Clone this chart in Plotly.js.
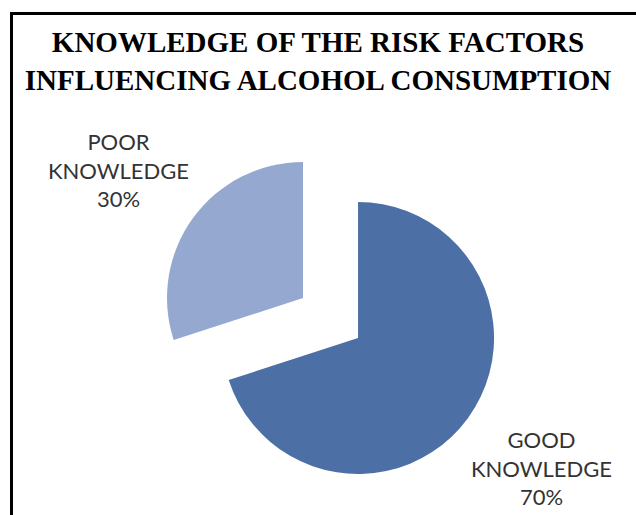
<!DOCTYPE html>
<html>
<head>
<meta charset="utf-8">
<script src="https://cdn.plot.ly/plotly-3.0.1.min.js"></script>
<style>
  html, body { margin: 0; padding: 0; background: #fff; overflow: hidden; }
  #frame { position: absolute; left: 10px; top: 12px; width: 700px; height: 600px;
           border-left: 3px solid #000; border-top: 3px solid #000; pointer-events: none; z-index: 5; }
  #chart { position: absolute; left: 0; top: 0; width: 636px; height: 515px; }
</style>
</head>
<body>
<div id="chart"></div>
<div id="frame"></div>
<script>
const titleText = 'KNOWLEDGE OF THE RISK FACTORS<br>INFLUENCING ALCOHOL CONSUMPTION';
const categories = ['GOOD KNOWLEDGE', 'POOR KNOWLEDGE'];
const values = [70, 30];
const colors = ['#4C6FA5', '#95A8CF'];
const pulls = [0.25, 0.25];
// label placement (paper fractions) for each category's data label
const labelPos = [[0.852, 0.091], [0.187, 0.670]];

const total = values.reduce((a, b) => a + b, 0);
const labelText = categories.map((c, i) =>
  c.replace(' ', '<br>') + '<br>' + Math.round(values[i] / total * 100) + '%');

const trace = {
  type: 'pie',
  labels: categories,
  values: values,
  sort: false,
  direction: 'clockwise',
  rotation: 0,
  pull: pulls,
  marker: { colors: colors, line: { width: 0 } },
  textposition: 'none',
  textinfo: 'none',
  domain: { x: [0.2524, 0.787], y: [0.0524, 0.7126] },
  hoverinfo: 'none',
  showlegend: false
};

const annotations = labelText.map((t, i) => ({
  text: t,
  x: labelPos[i][0], y: labelPos[i][1],
  xref: 'paper', yref: 'paper',
  xanchor: 'center', yanchor: 'middle',
  align: 'center',
  showarrow: false,
  font: { family: 'Lato, Open Sans, sans-serif', size: 22, color: '#333333' }
}));

const layout = {
  width: 636, height: 515,
  margin: { l: 0, r: 0, t: 0, b: 0 },
  paper_bgcolor: '#fff',
  showlegend: false,
  annotations: annotations,
  title: {
    text: '<b>' + titleText + '</b>',
    font: { family: 'Liberation Serif, Times New Roman, serif', size: 29, color: '#000' },
    x: 0.5, xanchor: 'center', xref: 'paper',
    y: 0.899, yanchor: 'top', yref: 'container'
  }
};

Plotly.newPlot('chart', [trace], layout, { displayModeBar: false, staticPlot: true });
</script>
</body>
</html>
